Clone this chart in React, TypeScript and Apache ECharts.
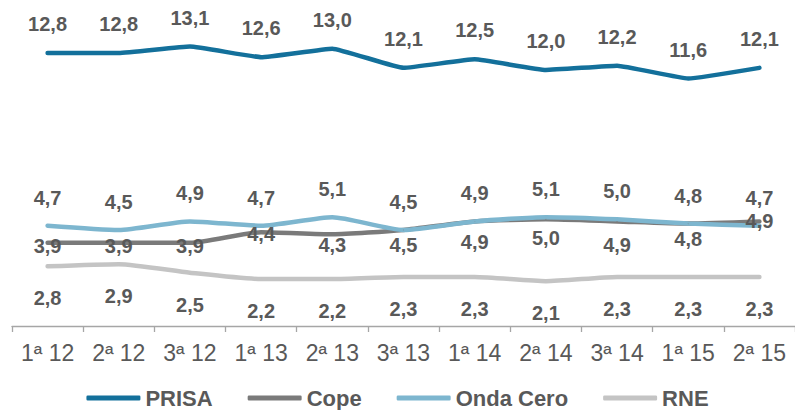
import React, { useEffect, useRef } from "react";
import * as echarts from "echarts";

const categories = ["1ª 12", "2ª 12", "3ª 12", "1ª 13", "2ª 13", "3ª 13", "1ª 14", "2ª 14", "3ª 14", "1ª 15", "2ª 15"];
const prisa = [12.8, 12.8, 13.1, 12.6, 13.0, 12.1, 12.5, 12.0, 12.2, 11.6, 12.1];
const cope = [3.9, 3.9, 3.9, 4.4, 4.3, 4.5, 4.9, 5.0, 4.9, 4.8, 4.9];
const ondaCero = [4.7, 4.5, 4.9, 4.7, 5.1, 4.5, 4.9, 5.1, 5.0, 4.8, 4.7];
const rne = [2.8, 2.9, 2.5, 2.2, 2.2, 2.3, 2.3, 2.1, 2.3, 2.3, 2.3];

// label vertical offsets (layout only)
const copeLabelDy = [3, 3, 3, 2, 11, 15, 21, 19, 24, 15, 0];

const TEXT = "#595959";
const FONT = "'Liberation Sans', Arial, sans-serif";

const labelStyle = {
  show: true,
  position: "inside",
  color: TEXT,
  fontFamily: FONT,
  fontWeight: "bold",
  fontSize: 20,
  formatter: (p: any) => Number(p.value).toFixed(1).replace(".", ","),
};

function makeSeries(name: string, values: number[], color: string, width: number, dy: number | number[], smooth: number) {
  return {
    name,
    type: "line",
    smooth,
    symbol: "circle",
    symbolSize: 1,
    itemStyle: { color },
    lineStyle: { color, width, cap: "round", join: "round" },
    label: { ...labelStyle, offset: [0, Array.isArray(dy) ? 0 : dy] },
    data: values.map((v, i) =>
      Array.isArray(dy) ? { value: v, label: { offset: [0, dy[i]] } } : v
    ),
    z: 2,
  };
}

export default function App() {
  const ref = useRef<HTMLDivElement>(null);
  useEffect(() => {
    if (!ref.current) return;
    const chart = echarts.init(ref.current, undefined, { renderer: "svg" });
    chart.setOption({
      animation: false,
      backgroundColor: "#ffffff",
      grid: { left: 12, top: 6, width: 790, height: 320 },
      xAxis: {
        type: "category",
        data: categories,
        boundaryGap: true,
        axisLine: { lineStyle: { color: "#a6a6a6", width: 1.3 } },
        axisTick: { show: true, length: 6, lineStyle: { color: "#a6a6a6", width: 1.3 } },
        axisLabel: {
          color: TEXT,
          fontFamily: FONT,
          fontSize: 23,
          margin: 15,
          interval: 0,
        },
      },
      yAxis: { type: "value", min: 0, max: 15, show: false },
      legend: {
        top: 386,
        left: "center",
        padding: 0,
        itemWidth: 54,
        itemHeight: 5,
        itemGap: 35,
        icon: "roundRect",
        textStyle: { color: TEXT, fontFamily: FONT, fontWeight: "bold", fontSize: 22, lineHeight: 24 },
        data: ["PRISA", "Cope", "Onda Cero", "RNE"],
      },
      series: [
        makeSeries("PRISA", prisa, "#13709b", 4.5, -29, 0.1),
        makeSeries("Cope", cope, "#7a7a7a", 4.5, copeLabelDy, 0.2),
        makeSeries("Onda Cero", ondaCero, "#7db6cf", 4.5, -28, 0.2),
        makeSeries("RNE", rne, "#c4c4c4", 4.5, 32, 0.2),
      ],
    });
    return () => chart.dispose();
  }, []);
  return (
    <div
      ref={ref}
      style={{ position: "absolute", left: 0, top: 0, width: 795, height: 410 }}
    />
  );
}
